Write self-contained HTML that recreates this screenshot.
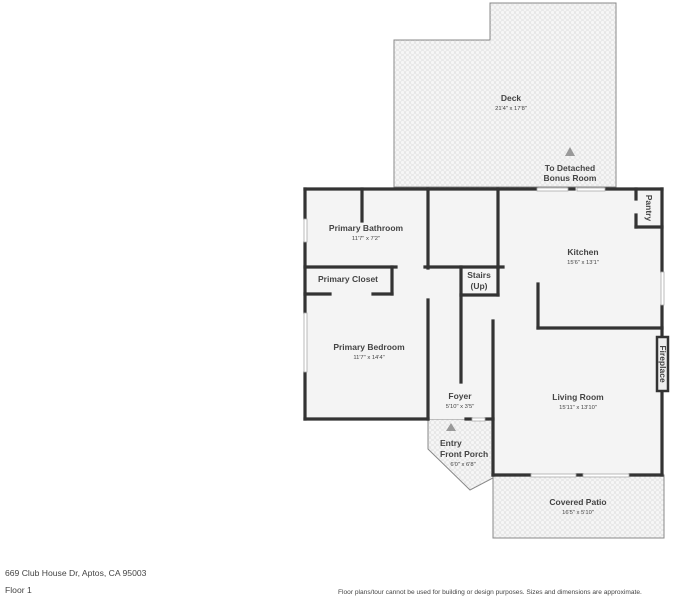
<!DOCTYPE html>
<html><head><meta charset="utf-8"><style>
html,body{margin:0;padding:0;background:#fff;width:686px;height:600px;overflow:hidden}
svg{display:block}
text{font-family:"Liberation Sans",sans-serif;fill:#444}
.n{font-size:8.5px;font-weight:bold;text-anchor:middle}
.d{font-size:5.8px;text-anchor:middle}
</style></head><body>
<svg width="686" height="600" viewBox="0 0 686 600" xmlns="http://www.w3.org/2000/svg">
<defs>
<pattern id="t" width="5" height="5" patternUnits="userSpaceOnUse">
<rect width="5" height="5" fill="#f6f6f6"/>
<circle cx="2.5" cy="2.5" r="2" fill="none" stroke="#dcdcdc" stroke-width="0.6"/>
</pattern>
</defs>
<polygon points="394,187 394,40 490,40 490,3 616,3 616,187" fill="url(#t)" stroke="#888" stroke-width="1"/>
<polygon points="428,419 493,419 493,478 470,490 428,449" fill="url(#t)" stroke="#888" stroke-width="1"/>
<rect x="493" y="475" width="171" height="63" fill="url(#t)" stroke="#888" stroke-width="1"/>
<polygon points="305,189 662,189 662,475 493,475 493,419 305,419" fill="#f4f4f4"/>
<g stroke="#333" stroke-width="3.2" fill="none" stroke-linecap="square">
<line x1="305" y1="189" x2="536" y2="189"/>
<line x1="569" y1="189" x2="574" y2="189"/>
<line x1="606" y1="189" x2="662" y2="189"/>
<line x1="305" y1="189" x2="305" y2="218"/>
<line x1="305" y1="243" x2="305" y2="312"/>
<line x1="305" y1="373" x2="305" y2="419"/>
<line x1="305" y1="419" x2="428" y2="419"/>
<line x1="466" y1="419" x2="471" y2="419"/>
<line x1="486" y1="419" x2="493" y2="419"/>
<line x1="662" y1="189" x2="662" y2="271"/>
<line x1="662" y1="306" x2="662" y2="475"/>
<line x1="493" y1="475" x2="530" y2="475"/>
<line x1="577" y1="475" x2="582" y2="475"/>
<line x1="630" y1="475" x2="662" y2="475"/>
<line x1="362" y1="189" x2="362" y2="221"/>
<line x1="428" y1="189" x2="428" y2="268"/>
<line x1="428" y1="300" x2="428" y2="419"/>
<line x1="498" y1="189" x2="498" y2="268"/>
<line x1="305" y1="267" x2="396" y2="267"/>
<line x1="425" y1="267" x2="503" y2="267"/>
<line x1="305" y1="294" x2="330" y2="294"/>
<line x1="373" y1="294" x2="392" y2="294"/>
<line x1="392" y1="267" x2="392" y2="294"/>
<line x1="461" y1="267" x2="461" y2="382"/>
<line x1="461" y1="295" x2="498" y2="295"/>
<line x1="498" y1="267" x2="498" y2="295"/>
<line x1="493" y1="321" x2="493" y2="475"/>
<line x1="538" y1="284" x2="538" y2="328"/>
<line x1="538" y1="328" x2="662" y2="328"/>
<line x1="636" y1="189" x2="636" y2="199"/>
<line x1="636" y1="215" x2="636" y2="227"/>
<line x1="636" y1="227" x2="662" y2="227"/>
</g>
<g fill="#fff" stroke="#aaa" stroke-width="0.8">
<rect x="537" y="188" width="31" height="3"/>
<rect x="577" y="188" width="28" height="3"/>
<rect x="304" y="219" width="3" height="23"/>
<rect x="304" y="313" width="3" height="59"/>
<rect x="661" y="272" width="3" height="33"/>
<rect x="531" y="474" width="45" height="3"/>
<rect x="583" y="474" width="46" height="3"/>
<rect x="472" y="418" width="13" height="3"/>
</g>
<rect x="657" y="337" width="11" height="54" fill="#eee" stroke="#333" stroke-width="2.5"/>
<polygon points="570,147 565,156 575,156" fill="#999"/>
<polygon points="451,423 446,431 456,431" fill="#999"/>
<text class="n" x="511" y="101">Deck</text><text class="d" x="511" y="110">21'4" x 17'8"</text>
<text class="n" x="570" y="171">To Detached</text><text class="n" x="570" y="181">Bonus Room</text>
<text class="n" x="366" y="231">Primary Bathroom</text><text class="d" x="366" y="240">11'7" x 7'2"</text>
<text class="n" x="348" y="282">Primary Closet</text>
<text class="n" x="479" y="278">Stairs</text><text class="n" x="479" y="289">(Up)</text>
<text class="n" x="583" y="255">Kitchen</text><text class="d" x="583" y="264">15'6" x 13'1"</text>
<text class="n" x="369" y="350">Primary Bedroom</text><text class="d" x="369" y="359">11'7" x 14'4"</text>
<text class="n" x="460" y="399">Foyer</text><text class="d" x="460" y="408">5'10" x 3'5"</text>
<text class="n" x="578" y="400">Living Room</text><text class="d" x="578" y="409">15'11" x 13'10"</text>
<text class="n" x="440" y="446" style="text-anchor:start">Entry</text>
<text class="n" x="440" y="457" style="text-anchor:start">Front Porch</text>
<text class="d" x="463" y="466">6'0" x 6'8"</text>
<text class="n" x="578" y="505">Covered Patio</text><text class="d" x="578" y="514">16'5" x 5'10"</text>
<text class="n" x="0" y="0" transform="translate(646,208) rotate(90)">Pantry</text>
<text class="n" x="0" y="0" transform="translate(660,364) rotate(90)">Fireplace</text>
<text x="5" y="576" style="font-size:8.6px">669 Club House Dr, Aptos, CA 95003</text>
<text x="5" y="593" style="font-size:8.6px">Floor 1</text>
<text x="338" y="594" style="font-size:6.6px">Floor plans/tour cannot be used for building or design purposes. Sizes and dimensions are approximate.</text>
</svg>
</body></html>
